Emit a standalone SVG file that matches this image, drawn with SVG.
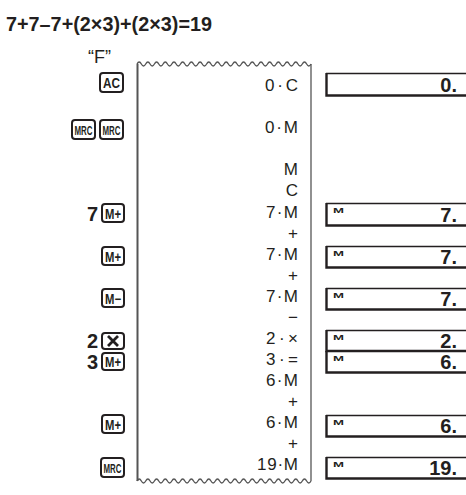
<svg xmlns="http://www.w3.org/2000/svg" width="466" height="495" viewBox="0 0 466 495">
<style>
text{font-family:"Liberation Sans",Arial,sans-serif;fill:#231f20}
.title{font-size:19.5px;font-weight:bold}
.tape{font-size:17px;text-anchor:end}
.key{fill:#fff;stroke:#231f20;stroke-width:2}
.kl{font-weight:bold;text-anchor:middle}
.dig{font-size:20px;font-weight:bold;text-anchor:end}
.num{font-size:20px;font-weight:bold;text-anchor:end}
.ml{font-size:7px;font-weight:bold}
.bt{fill:none;stroke:#231f20;stroke-width:1.3}
.bl{fill:none;stroke:#231f20;stroke-width:2.4}
.paper{fill:none;stroke:#555;stroke-width:1.3}
</style>
<rect width="466" height="495" fill="#fff"/>
<text class="title" x="6" y="31" textLength="206" lengthAdjust="spacingAndGlyphs">7+7–7+(2×3)+(2×3)=19</text>
<text x="111" y="63" style="font-size:18px;text-anchor:end">“F”</text>
<g id="paper">
<path class="paper" d="M137,64 q2.175,-4 4.35,0 t4.35,0 t4.35,0 t4.35,0 t4.35,0 t4.35,0 t4.35,0 t4.35,0 t4.35,0 t4.35,0 t4.35,0 t4.35,0 t4.35,0 t4.35,0 t4.35,0 t4.35,0 t4.35,0 t4.35,0 t4.35,0 t4.35,0 t4.35,0 t4.35,0 t4.35,0 t4.35,0 t4.35,0 t4.35,0 t4.35,0 t4.35,0 t4.35,0 t4.35,0 t4.35,0 t4.35,0 t4.35,0 t4.35,0 t4.35,0 t4.35,0 t4.35,0 t4.35,0 t4.35,0 t4.35,0"/>
<path class="paper" d="M137,481 q2.175,-4 4.35,0 t4.35,0 t4.35,0 t4.35,0 t4.35,0 t4.35,0 t4.35,0 t4.35,0 t4.35,0 t4.35,0 t4.35,0 t4.35,0 t4.35,0 t4.35,0 t4.35,0 t4.35,0 t4.35,0 t4.35,0 t4.35,0 t4.35,0 t4.35,0 t4.35,0 t4.35,0 t4.35,0 t4.35,0 t4.35,0 t4.35,0 t4.35,0 t4.35,0 t4.35,0 t4.35,0 t4.35,0 t4.35,0 t4.35,0 t4.35,0 t4.35,0 t4.35,0 t4.35,0 t4.35,0 t4.35,0"/>
<line x1="137.5" y1="64" x2="137.5" y2="481" stroke="#555" stroke-width="2"/>
<line x1="311" y1="64" x2="311" y2="481" stroke="#555" stroke-width="1.3"/>
</g>
<g id="tape">
<text class="tape" x="298" y="91" textLength="33" lengthAdjust="spacing">0·C</text>
<text class="tape" x="298" y="133" textLength="33" lengthAdjust="spacing">0·M</text>
<text class="tape" x="298" y="175">M</text>
<text class="tape" x="298" y="196">C</text>
<text class="tape" x="298" y="218" textLength="32" lengthAdjust="spacing">7·M</text>
<text class="tape" x="298" y="239">+</text>
<text class="tape" x="298" y="260" textLength="32" lengthAdjust="spacing">7·M</text>
<text class="tape" x="298" y="281">+</text>
<text class="tape" x="298" y="302" textLength="32" lengthAdjust="spacing">7·M</text>
<text class="tape" x="298" y="323">−</text>
<text class="tape" x="298" y="344" textLength="32" lengthAdjust="spacing">2·×</text>
<text class="tape" x="298" y="365" textLength="32" lengthAdjust="spacing">3·=</text>
<text class="tape" x="298" y="386" textLength="32" lengthAdjust="spacing">6·M</text>
<text class="tape" x="298" y="407">+</text>
<text class="tape" x="298" y="428" textLength="32" lengthAdjust="spacing">6·M</text>
<text class="tape" x="298" y="449">+</text>
<text class="tape" x="298" y="470" textLength="41" lengthAdjust="spacing">19·M</text>
</g>
<g id="keys">
<g id="k-ac"><rect class="key" x="100" y="73" width="23" height="19" rx="3"/><text class="kl" x="111.5" y="88" font-size="14" textLength="17" lengthAdjust="spacingAndGlyphs">AC</text></g>
<g id="k-mrc1"><rect class="key" x="72" y="120" width="23" height="19" rx="3"/><text class="kl" x="83.5" y="134.5" font-size="12.5" textLength="18" lengthAdjust="spacingAndGlyphs">MRC</text></g>
<g id="k-mrc2"><rect class="key" x="100" y="120" width="23" height="19" rx="3"/><text class="kl" x="111.5" y="134.5" font-size="12.5" textLength="18" lengthAdjust="spacingAndGlyphs">MRC</text></g>
<text class="dig" x="98" y="221">7</text>
<g id="k-mp1"><rect class="key" x="102" y="204" width="22" height="18" rx="3"/><text class="kl" x="113" y="218.5" font-size="14" textLength="16" lengthAdjust="spacingAndGlyphs">M+</text></g>
<g id="k-mp2"><rect class="key" x="102" y="247" width="22" height="18" rx="3"/><text class="kl" x="113" y="261.5" font-size="14" textLength="16" lengthAdjust="spacingAndGlyphs">M+</text></g>
<g id="k-mm"><rect class="key" x="102" y="289" width="22" height="18" rx="3"/><text class="kl" x="113" y="303.5" font-size="14" textLength="16" lengthAdjust="spacingAndGlyphs">M−</text></g>
<text class="dig" x="98" y="348">2</text>
<g id="k-x"><rect class="key" x="102" y="333" width="22" height="16" rx="3"/><path d="M108,336 L118,346 M118,336 L108,346" stroke="#231f20" stroke-width="2.8"/></g>
<text class="dig" x="98" y="369">3</text>
<g id="k-mp3"><rect class="key" x="102" y="353" width="22" height="17" rx="3"/><text class="kl" x="113" y="367" font-size="14" textLength="16" lengthAdjust="spacingAndGlyphs">M+</text></g>
<g id="k-mp4"><rect class="key" x="102" y="415" width="22" height="18" rx="3"/><text class="kl" x="113" y="429.5" font-size="14" textLength="16" lengthAdjust="spacingAndGlyphs">M+</text></g>
<g id="k-mrc3"><rect class="key" x="101" y="458" width="23" height="19" rx="3"/><text class="kl" x="112.5" y="472.5" font-size="12.5" textLength="18" lengthAdjust="spacingAndGlyphs">MRC</text></g>
</g>
<g id="displays">
<g id="d1"><path class="bt" d="M326,73.5 H466"/><path class="bl" d="M326.5,73 V95.5 H466"/><text class="num" x="457" y="92">0.</text></g>
<g id="d2"><path class="bt" d="M326,203.5 H466"/><path class="bl" d="M326.5,203 V225.5 H466"/><text class="ml" x="333" y="212.5" textLength="11" lengthAdjust="spacingAndGlyphs">M</text><text class="num" x="457" y="222">7.</text></g>
<g id="d3"><path class="bt" d="M326,246.5 H466"/><path class="bl" d="M326.5,246 V267.5 H466"/><text class="ml" x="333" y="255.5" textLength="11" lengthAdjust="spacingAndGlyphs">M</text><text class="num" x="457" y="264">7.</text></g>
<g id="d4"><path class="bt" d="M326,288.5 H466"/><path class="bl" d="M326.5,288 V309.5 H466"/><text class="ml" x="333" y="297.5" textLength="11" lengthAdjust="spacingAndGlyphs">M</text><text class="num" x="457" y="306">7.</text></g>
<g id="d5"><path class="bt" d="M326,330.5 H466"/><path class="bl" d="M326.5,330 V351 H466"/><text class="ml" x="333" y="339.5" textLength="11" lengthAdjust="spacingAndGlyphs">M</text><text class="num" x="457" y="348">2.</text></g>
<g id="d6"><path class="bl" d="M326.5,351 V372.5 H466"/><text class="ml" x="333" y="360.5" textLength="11" lengthAdjust="spacingAndGlyphs">M</text><text class="num" x="457" y="369">6.</text></g>
<g id="d7"><path class="bt" d="M326,415.5 H466"/><path class="bl" d="M326.5,415 V436.5 H466"/><text class="ml" x="333" y="424.5" textLength="11" lengthAdjust="spacingAndGlyphs">M</text><text class="num" x="457" y="433">6.</text></g>
<g id="d8"><path class="bt" d="M326,457.5 H466"/><path class="bl" d="M326.5,457 V478.5 H466"/><text class="ml" x="333" y="466.5" textLength="11" lengthAdjust="spacingAndGlyphs">M</text><text class="num" x="457" y="475">19.</text></g>
</g>
</svg>
